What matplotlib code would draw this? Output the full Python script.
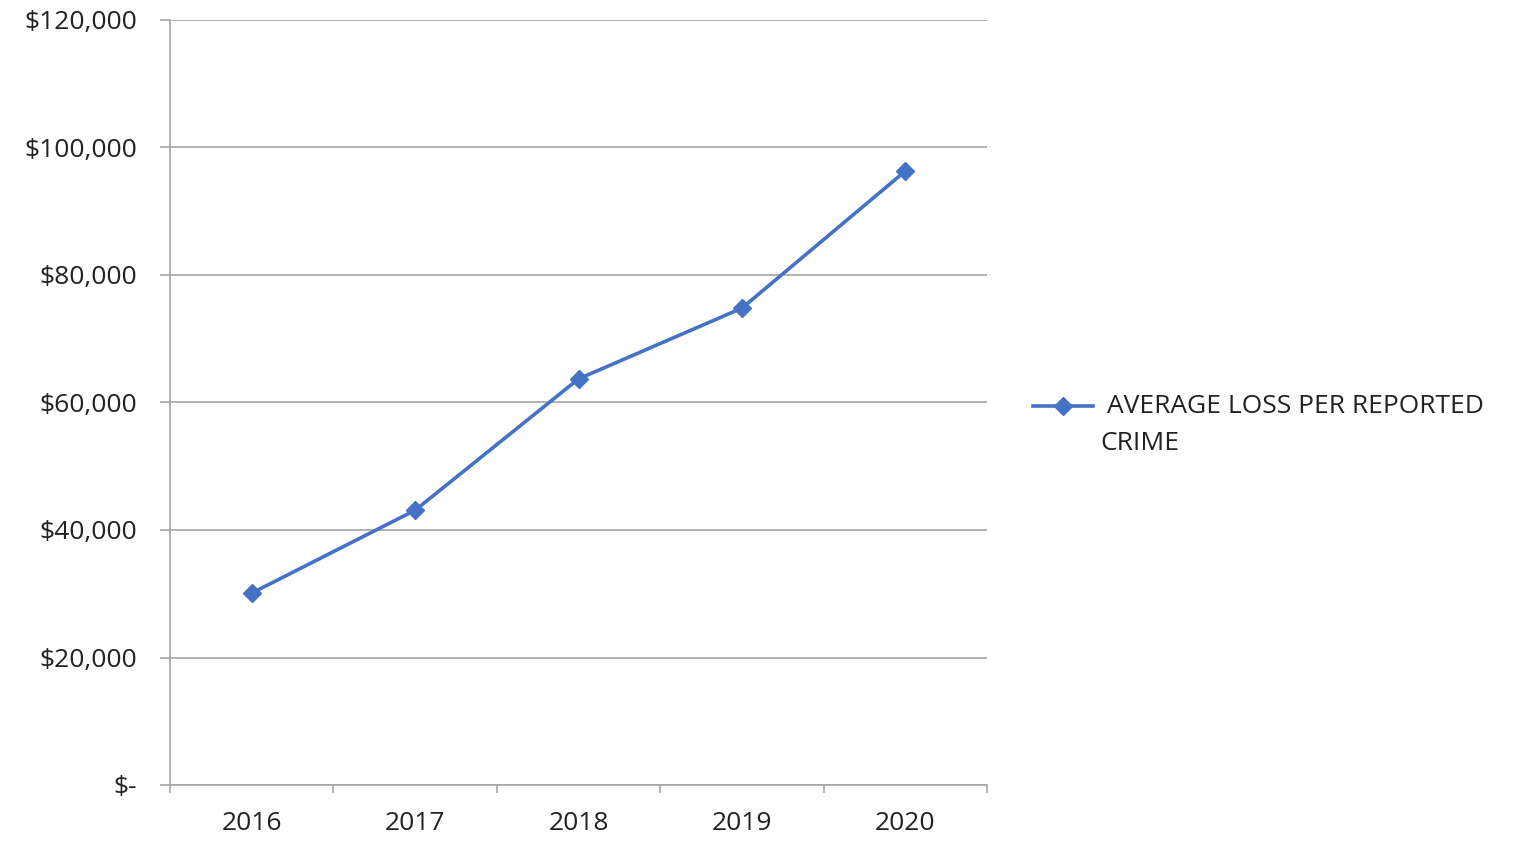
import matplotlib.pyplot as plt
from matplotlib.lines import Line2D
from matplotlib.ticker import FuncFormatter, FixedLocator

years = ["2016", "2017", "2018", "2019", "2020"]
avg_loss = [30100, 43100, 63700, 74800, 96300]
y_ticks = [0, 20000, 40000, 60000, 80000, 100000, 120000]
series_lines = ["AVERAGE LOSS PER REPORTED", "CRIME"]

plt.rcParams["font.family"] = ["Open Sans", "DejaVu Sans"]
grey = "#a6a6a6"
blue = "#4472c4"
txt = "#222222"

fig = plt.figure(figsize=(15.19, 8.41), dpi=100)
ax = fig.add_axes([170 / 1519, 56 / 841, 817 / 1519, 765 / 841])

x = list(range(len(years)))
ax.plot(x, avg_loss, color=blue, lw=2.6, marker="D", ms=9.5)

ax.set_xlim(-0.5, len(years) - 0.5)
ax.set_ylim(0, 120000)
ax.set_yticks(y_ticks)
ax.yaxis.set_major_formatter(FuncFormatter(lambda v, p: "$-" if v == 0 else "${:,.0f}".format(v)))
ax.set_xticks(x)
ax.set_xticklabels(years)
ax.xaxis.set_minor_locator(FixedLocator([i - 0.5 for i in range(len(years) + 1)]))

ax.grid(axis="y", color=grey, lw=1.2)
ax.set_axisbelow(True)
for s in ["top", "right"]:
    ax.spines[s].set_visible(False)
for s in ["left", "bottom"]:
    ax.spines[s].set_color(grey)
    ax.spines[s].set_linewidth(1.2)

ax.tick_params(axis="y", length=7, width=1.2, color=grey, labelsize=19, labelcolor=txt, pad=17)
ax.tick_params(axis="x", which="major", length=0, labelsize=19, labelcolor=txt, pad=19)
ax.tick_params(axis="x", which="minor", length=6, width=1.2, color=grey)

# legend drawn by hand so the marker sits on the first text line, as in the original
ly = 1 - 406 / 841
fig.add_artist(Line2D([1033 / 1519, 1093 / 1519], [ly, ly], color=blue, lw=2.6))
fig.add_artist(Line2D([1063 / 1519], [ly], color=blue, marker="D", ms=9.5))
fig.text(1107 / 1519, ly, series_lines[0], fontsize=19, color=txt, va="center", ha="left")
fig.text(1100 / 1519, 1 - 443 / 841, series_lines[1], fontsize=19, color=txt, va="center", ha="left")

fig.savefig("out.png", dpi=100)
